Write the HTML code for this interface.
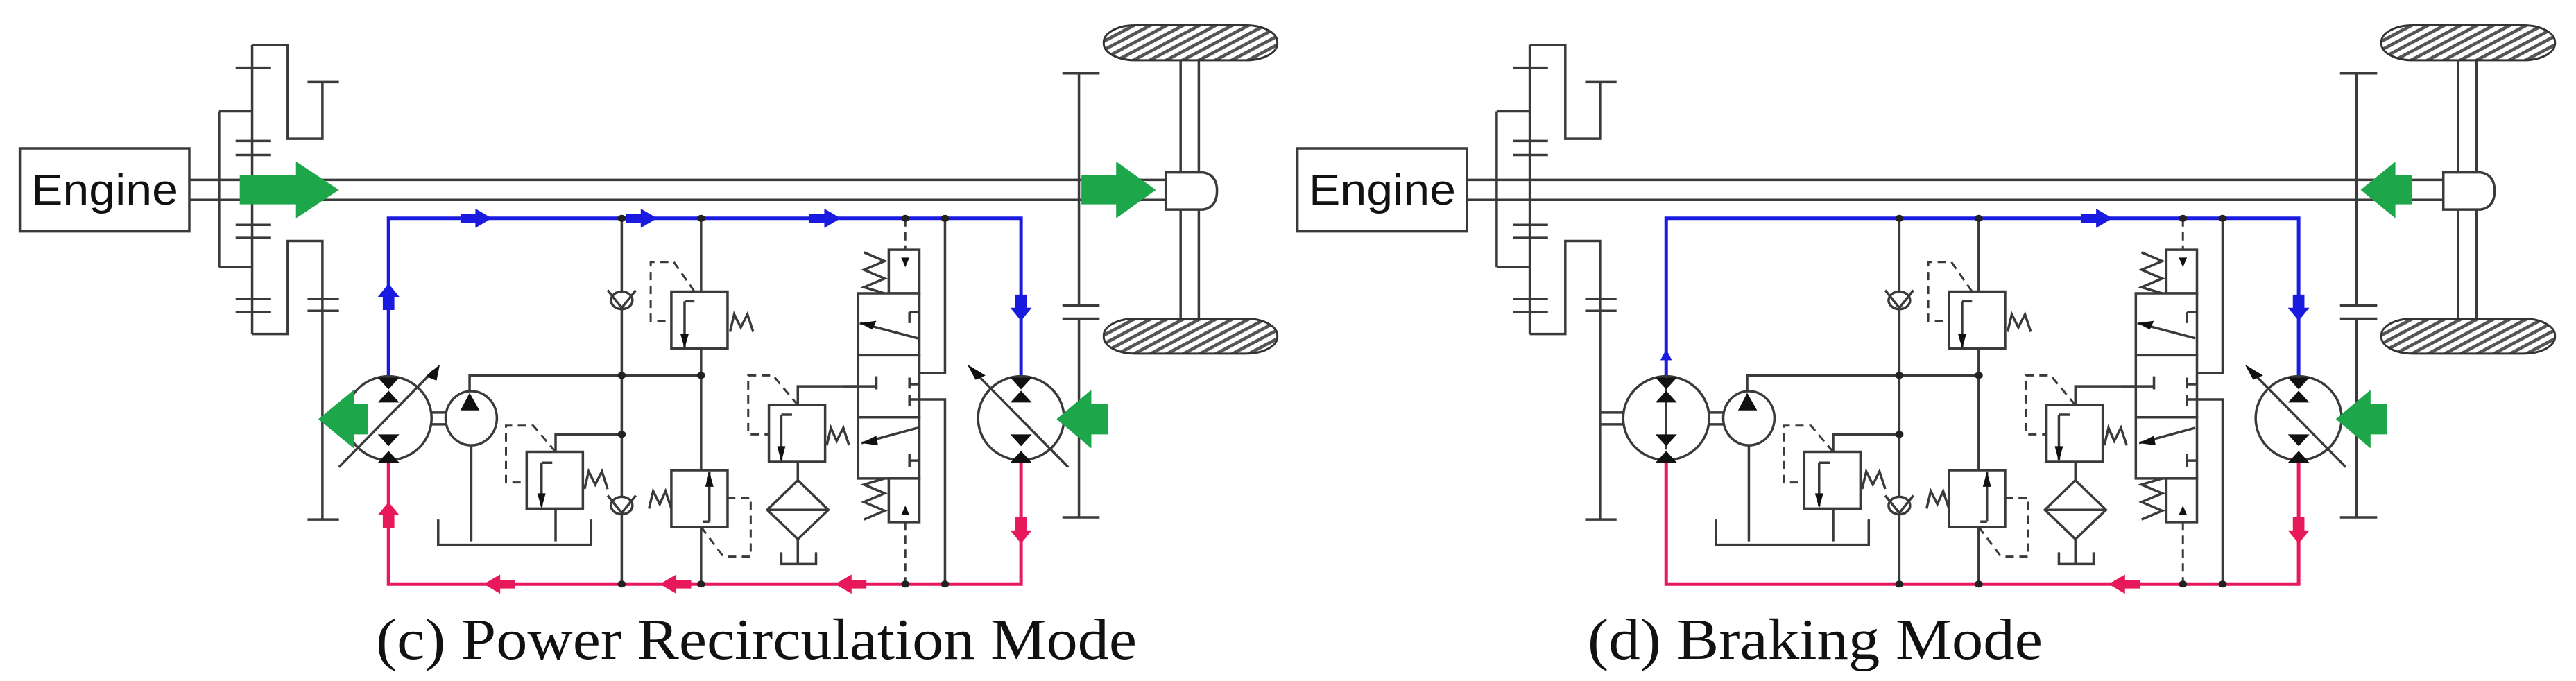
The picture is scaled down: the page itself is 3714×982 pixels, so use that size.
<!DOCTYPE html>
<html><head><meta charset="utf-8"><style>
html,body{margin:0;padding:0;background:#fff;width:3714px;height:982px;overflow:hidden}
svg *{vector-effect:non-scaling-stroke}
.k{fill:none;stroke:#3a3a3a;stroke-width:3.5}
.d{fill:none;stroke:#3a3a3a;stroke-width:3;stroke-dasharray:12 8}
.b{fill:none;stroke:#1a1ae0;stroke-width:5}
.r{fill:none;stroke:#e8195a;stroke-width:5}
.w{fill:#fff;stroke:#3a3a3a;stroke-width:3.5}
.g{fill:#1ea64a}
.t{fill:#111}
</style></head><body>
<svg width="3714" height="982" viewBox="0 0 3714 982" xmlns="http://www.w3.org/2000/svg">
<defs>
<pattern id="h" patternUnits="userSpaceOnUse" width="14" height="14" patternTransform="rotate(45)">
<rect width="14" height="14" fill="#fff"/><rect width="6" height="14" fill="#555"/></pattern>
<path id="ar" d="M-18,-10H0V-22L20,0L0,22V10H-18Z"/>
<path id="al" d="M18,-10H0V-22L-20,0L0,22V10H18Z"/>
<path id="au" d="M-7,30V0H-13L0,-30L13,0H7V30Z"/>
<path id="ad" d="M-7,-30V0H-13L0,30L13,0H7V-30Z"/>
<g id="common">
 <rect x="24" y="340" width="205" height="190" class="w"/>
 <path class="k" d="M230,412H1410M230,458H1410"/>
 <path class="k" d="M265,255V612M265,255H305M265,612H305M305,103V765M305,103H348V318H390V188M372,188H410M305,765H348V552H390V1190M372,1190H410M372,685H410M372,712H410"/>
 <path class="k" d="M285,155H327M285,323H327M285,355H327M285,515H327M285,545H327M285,685H327M285,715H327"/>
 <path class="k" d="M1305,168V700M1305,730V1185M1285,168H1330M1285,700H1330M1285,730H1330M1285,1185H1330"/>
 <path class="k" d="M1428,135V395M1450,135V395M1428,480V730M1450,730V480"/>
 <path class="w" d="M1410,395H1455Q1472,400 1472,437Q1472,475 1455,480H1410Z"/>
 <rect x="1335" y="58" width="210" height="80" rx="38" ry="38" fill="url(#h)" stroke="#333" stroke-width="3"/>
 <rect x="1335" y="730" width="210" height="80" rx="38" ry="38" fill="url(#h)" stroke="#333" stroke-width="3"/>
 <path class="b" d="M470,860V500H1235V860"/>
 <path class="r" d="M470,1060V1338H1235V1060"/>
 <path class="k" d="M752,500V1338M848,500V1338M1143,500V855H1110M1143,1338V915H1110M568,900V860H848M672,1035V995H752M965,928V885H1055"/>
 <path class="d" d="M1095,500V575M1095,1195V1338"/>
 <g fill="#222">
  <ellipse cx="752" cy="500" rx="5" ry="8"/><ellipse cx="848" cy="500" rx="5" ry="8"/><ellipse cx="1095" cy="500" rx="5" ry="8"/><ellipse cx="1143" cy="500" rx="5" ry="8"/>
  <ellipse cx="752" cy="1338" rx="5" ry="8"/><ellipse cx="848" cy="1338" rx="5" ry="8"/><ellipse cx="1095" cy="1338" rx="5" ry="8"/><ellipse cx="1143" cy="1338" rx="5" ry="8"/>
  <ellipse cx="752" cy="860" rx="5" ry="8"/><ellipse cx="848" cy="860" rx="5" ry="8"/><ellipse cx="752" cy="995" rx="5" ry="8"/>
 </g>
 <path class="k" d="M520,945H540M520,972H540"/>
 <ellipse cx="570" cy="958" rx="31" ry="62" class="w"/>
 <path d="M557,940L568,900L580,940Z" fill="#111"/>
 <path class="k" d="M570,1020V1240M530,1190V1248H715V1190"/>
 <rect x="637" y="1035" width="68" height="130" class="w"/>
 <path class="k" d="M655,1060H668M655,1060V1160M672,1165V1240M707,1120L712,1080L720,1110L728,1080L735,1120"/>
 <path d="M650,1130L655,1165L660,1130Z" fill="#111"/>
 <path class="d" d="M672,1035L645,975H612V1105H637"/>
 <ellipse cx="752" cy="688" rx="13" ry="20" class="w"/><path class="k" d="M735,665L752,705L769,665"/>
 <ellipse cx="752" cy="1158" rx="13" ry="20" class="w"/><path class="k" d="M735,1135L752,1175L769,1135"/>
 <rect x="812" y="668" width="68" height="130" class="w"/>
 <path class="k" d="M828,690H840M828,690V795M883,760L888,720L896,750L904,720L911,760"/>
 <path d="M823,765L828,798L833,765Z" fill="#111"/>
 <path class="d" d="M840,668L815,600H787V735H812"/>
 <rect x="812" y="1077" width="68" height="130" class="w"/>
 <path class="k" d="M858,1195H850M858,1195V1080M785,1165L790,1125L798,1155L805,1125L812,1165"/>
 <path d="M853,1115L858,1080L863,1115Z" fill="#111"/>
 <path class="d" d="M848,1207L875,1275H908V1140H880"/>
 <rect x="930" y="928" width="68" height="130" class="w"/>
 <path class="k" d="M945,950H958M945,950V1055M1000,1020L1005,980L1012,1010L1020,980L1027,1020M965,1058V1100M965,1235V1290M945,1265V1292H987V1265M930,1168H1000"/>
 <path d="M940,1022L945,1058L950,1022Z" fill="#111"/>
 <path class="d" d="M965,928L935,860H905V995H930"/>
 <path class="k" d="M965,1100L1002,1168L965,1235L928,1168Z"/>
 <rect x="1075" y="572" width="37" height="100" class="w"/>
 <rect x="1038" y="672" width="74" height="142" class="w"/>
 <rect x="1038" y="814" width="74" height="142" class="w"/>
 <rect x="1038" y="956" width="74" height="140" class="w"/>
 <rect x="1075" y="1096" width="37" height="100" class="w"/>
 <path class="k" d="M1045,578L1070,598L1045,618L1070,638L1045,658L1070,672M1045,1190L1070,1170L1045,1150L1070,1130L1045,1110L1070,1096"/>
 <path class="k" d="M1100,715V740M1100,715H1112M1040,740L1110,775M1100,865V890M1100,880H1112M1100,905V930M1100,915H1112M1060,862V892M1020,885H1060M1042,1015L1110,980M1100,1040V1070M1100,1055H1112"/>
 <path d="M1090,590L1095,612L1100,590Z M1090,1180L1095,1158L1100,1180Z M1040,740L1060,735L1055,755Z M1042,1015L1060,998L1062,1020Z" fill="#111"/>
 <ellipse cx="1235" cy="958" rx="52" ry="96" class="w"/>
 <path d="M1222,865L1235,892L1248,865Z M1222,922L1235,895L1248,922Z M1222,995L1235,1022L1248,995Z M1222,1060L1235,1033L1248,1060Z" fill="#111"/>
 <path class="k" d="M1292,1070L1175,845"/><path d="M1170,835L1180,870L1192,860Z" fill="#111"/>
 <use href="#ad" x="1235" y="705" fill="#1a1ae0"/>
 <use href="#ad" x="1235" y="1215" fill="#e8195a"/>
</g>
</defs>

<g transform="scale(1.192,0.6295)">
 <use href="#common"/>
 <ellipse cx="470" cy="958" rx="52" ry="96" class="w"/>
 <path d="M457,865L470,892L483,865Z M457,922L470,895L483,922Z M457,995L470,1022L483,995Z M457,1060L470,1033L483,1060Z" fill="#111"/>
 <path class="k" d="M410,1070L525,848"/><path d="M532,835L515,862L528,872Z" fill="#111"/>
 <path class="g" d="M290,402H358V370L410,435L358,500V468H290Z"/>
 <path class="g" d="M1308,402H1350V370L1398,435L1350,500V468H1308Z"/>
 <path class="g" d="M445,925H428V893L385,960L428,1027V995H445Z"/>
 <path class="g" d="M1340,925H1320V893L1278,960L1320,1027V995H1340Z"/>
 <g fill="#1a1ae0"><use href="#ar" x="575" y="500"/><use href="#ar" x="775" y="500"/><use href="#ar" x="997" y="500"/><use href="#au" x="470" y="680"/></g>
 <g fill="#e8195a"><use href="#al" x="605" y="1338"/><use href="#al" x="818" y="1338"/><use href="#al" x="1030" y="1338"/><use href="#au" x="470" y="1180"/></g>
</g>

<g transform="translate(1842,0) scale(1.192,0.6295)">
 <use href="#common"/>
 <path class="k" d="M390,945H420M390,972H420"/>
 <ellipse cx="470" cy="958" rx="52" ry="96" class="w"/>
 <path class="k" d="M470,890V1030"/>
 <path d="M457,865L470,892L483,865Z M457,922L470,895L483,922Z M457,995L470,1022L483,995Z M457,1060L470,1033L483,1060Z" fill="#111"/>
 <path d="M463,825L470,800L477,825Z" fill="#1a1ae0"/>
 <path class="g" d="M1372,402H1352V370L1310,435L1352,500V468H1372Z"/>
 <path class="g" d="M1342,925H1322V893L1280,960L1322,1027V995H1342Z"/>
 <use href="#ar" x="990" y="500" fill="#1a1ae0"/>
 <use href="#al" x="1025" y="1338" fill="#e8195a"/>
</g>

<text x="45" y="295" font-family="Liberation Sans, sans-serif" font-size="62" textLength="212" lengthAdjust="spacingAndGlyphs" class="t">Engine</text>
<text x="1887" y="295" font-family="Liberation Sans, sans-serif" font-size="62" textLength="212" lengthAdjust="spacingAndGlyphs" class="t">Engine</text>
<text x="542" y="950" font-family="Liberation Serif, serif" font-size="84" textLength="1097" lengthAdjust="spacingAndGlyphs" class="t">(c) Power Recirculation Mode</text>
<text x="2289" y="950" font-family="Liberation Serif, serif" font-size="84" textLength="656" lengthAdjust="spacingAndGlyphs" class="t">(d) Braking Mode</text>
</svg>
</body></html>
